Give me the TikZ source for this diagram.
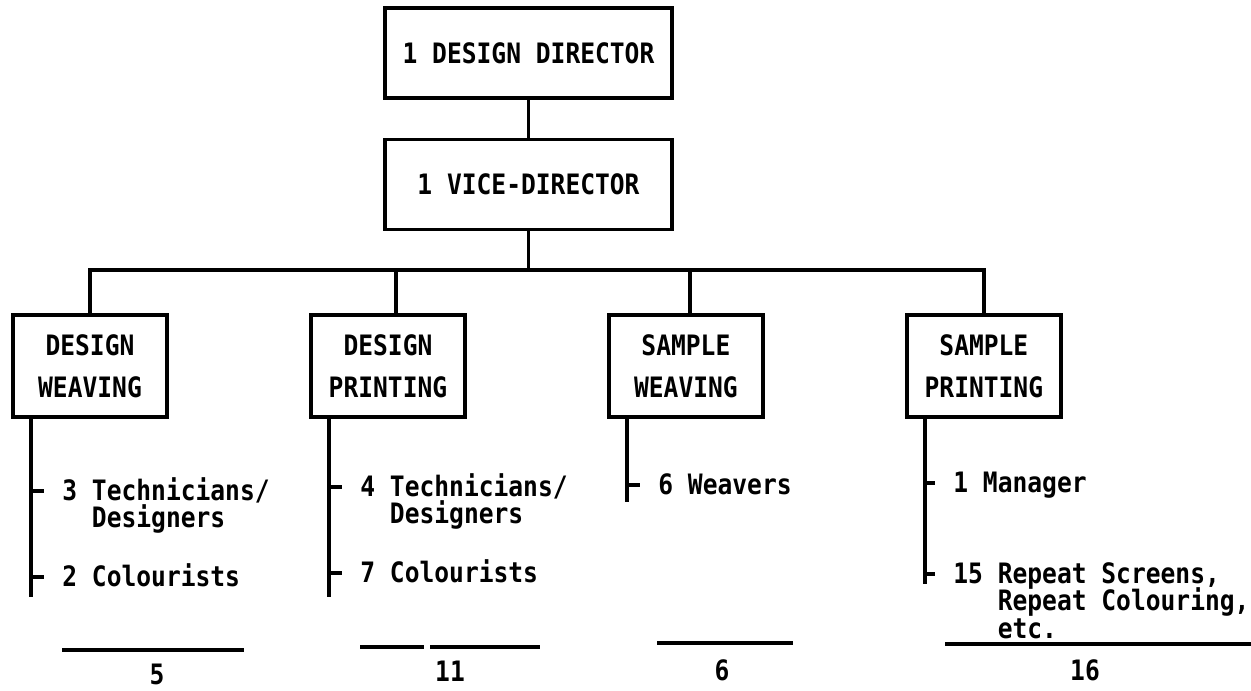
\documentclass[tikz,border=0pt]{standalone}
\usepackage{fontspec}
\usetikzlibrary{positioning,calc}
\newfontfamily\typewriter[FakeStretch=0.875]{DejaVu Sans Mono}
\tikzset{
  unit/.style={draw,line width=2pt,minimum width=3.08cm,minimum height=2.04cm,
            align=center,inner sep=0pt,font=\typewriter\bfseries\fontsize{16}{23.9}\selectfont},
  head/.style={unit,minimum width=5.74cm,minimum height=1.8cm},
  staff/.style={anchor=west,inner sep=0pt,text height=0.45cm,text depth=0.09cm,
            font=\typewriter\bfseries\fontsize{16}{17}\selectfont},
  total/.style={inner sep=0pt,font=\typewriter\bfseries\fontsize{16}{17}\selectfont},
  link/.style={line width=2pt},
  tick/.style={line width=1.8pt},
}

\begin{document}
\begin{tikzpicture}[x=0.02cm,y=-0.02cm]
  \useasboundingbox (0,0) rectangle (1251,690);
  \node[head] (dir) at (528.5,53) {1 DESIGN DIRECTOR};
  \node[head,below=0.76cm of dir] (vice) {1 VICE-DIRECTOR};
  \node[unit] (dw) at (90,366) {DESIGN\\WEAVING};
  \node[unit,right=2.81cm of dw] (dp) {DESIGN\\PRINTING};
  \node[unit,right=2.81cm of dp] (sw) {SAMPLE\\WEAVING};
  \node[unit,right=2.81cm of sw] (sp) {SAMPLE\\PRINTING};
  \coordinate (bus) at (528,270);
  % director down to the four sections
  \draw[link] (dir) -- (vice);
  \draw[link] (vice.south) -- (vice.south |- bus);
  \draw[link] (dw.north) |- (bus) -| (sp.north);
  \draw[link] ([xshift=0.16cm]dp.north) -- ([xshift=0.16cm]dp.north |- bus);
  \draw[link] ([xshift=0.08cm]sw.north) -- ([xshift=0.08cm]sw.north |- bus);
  % design weaving staff
  \draw[link] ([xshift=0.4cm]dw.south west) -- ++(0,-3.56cm) coordinate (dwend);
  \node[staff] (dwa) at (62,491) {3 Technicians/};
  \node[staff,below=0pt of dwa.south west,anchor=north west] (dwb) {\hphantom{3 }Designers};
  \node[staff] (dwc) at (62,577) {2 Colourists};
  \foreach \s in {dwa,dwc} \draw[tick] (dwend |- \s.west) -- ([xshift=-0.36cm]\s.west);
  \draw[link] (62,650) -- (244,650);
  \node[total] (dwsum) at (157,674) {5};
  % design printing staff
  \draw[link] ([xshift=0.4cm]dp.south west) -- ++(0,-3.56cm) coordinate (dpend);
  \node[staff] (dpa) at (360,487) {4 Technicians/};
  \node[staff,below=0pt of dpa.south west,anchor=north west] (dpb) {\hphantom{4 }Designers};
  \node[staff] (dpc) at (360,573) {7 Colourists};
  \foreach \s in {dpa,dpc} \draw[tick] (dpend |- \s.west) -- ([xshift=-0.36cm]\s.west);
  \draw[link] (360,647) -- (424,647) (430,647) -- (540,647);
  \node[total] (dpsum) at (450,671) {11};
  % sample weaving staff
  \draw[link] ([xshift=0.4cm]sw.south west) -- ++(0,-1.66cm) coordinate (swend);
  \node[staff] (swa) at (658,485) {6 Weavers};
  \draw[tick] (swend |- swa.west) -- ([xshift=-0.36cm]swa.west);
  \draw[link] (657,643) -- (793,643);
  \node[total] (swsum) at (722,670) {6};
  % sample printing staff
  \draw[link] ([xshift=0.4cm]sp.south west) -- ++(0,-3.3cm) coordinate (spend);
  \node[staff] (spa) at (953,483) {1 Manager};
  \node[staff] (spb) at (953,574) {15 Repeat Screens,};
  \node[staff,below=0pt of spb.south west,anchor=north west] (spc) {\hphantom{15 }Repeat Colouring,};
  \node[staff,below=0pt of spc.south west,anchor=north west] (spd) {\hphantom{15 }etc.};
  \foreach \s in {spa,spb} \draw[tick] (spend |- \s.west) -- ([xshift=-0.36cm]\s.west);
  \draw[link] (945,644) -- (1251,644);
  \node[total] (spsum) at (1085,670) {16};
\end{tikzpicture}
\end{document}
